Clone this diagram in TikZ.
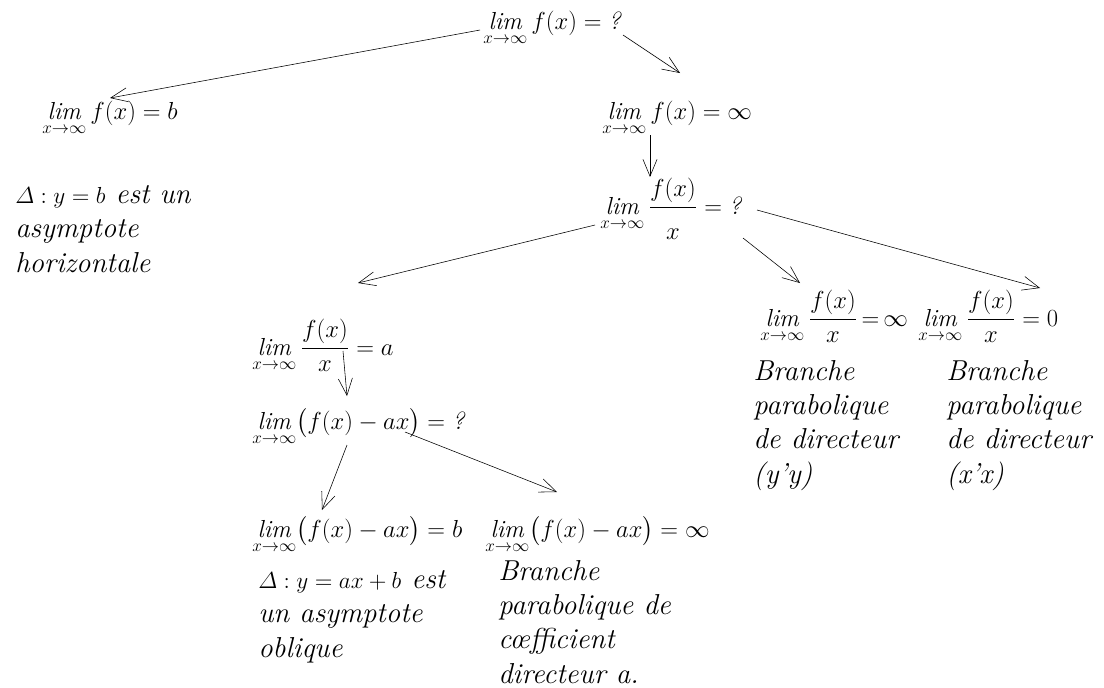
\RequirePackage{fix-cm}
\documentclass[tikz,border=0pt]{standalone}
\usepackage{amsmath}
\usepackage{fontspec}
\usetikzlibrary{arrows.meta}
\newcommand{\limx}{\mathop{\mathit{lim}}\limits_{x\to\infty}}
\newcommand{\fx}[1][20pt]{\dfrac{f(x)\rule[-6pt]{0pt}{0pt}}{\rule{0pt}{#1}x}}
\newcommand{\eqn}[1]{{\fontsize{16.5}{24.3}\selectfont$#1$}}
\tikzset{
    fl/.style={-{Straight Barb[length=12pt,width=10pt]}, line width=0.4pt},
    eq/.style={anchor=base west, inner sep=0pt,
        font=\fontsize{17.5}{24.3}\selectfont},
    bloc/.style={anchor=base west, inner sep=0pt, align=left,
        font=\fontsize{20.5}{24.3}\selectfont\itshape},
}

\begin{document}
\begin{tikzpicture}[x=0.025cm, y=-0.025cm]
\useasboundingbox (0,0) rectangle (1104,687);

% Limite de f
\node[eq] (top) at (483,29) {$\limx f(x) = \textit{?}$};

% Limite finie
\node[eq] (lb) at (42,119) {$\limx f(x) = b$};
\node[bloc] (ah) at (15,272) {\eqn{\varDelta : y = b}\ est un\\asymptote\\horizontale};

% Limite infinie
\node[eq] (li) at (602,119) {$\limx f(x) = \infty$};
\node[eq] (lq) at (600,214) {$\limx \fx = \textit{?}$};

% Les trois cas
\node[eq] (la) at (252,355) {$\limx \fx[10pt] = a$};
\node[eq] (lqi) at (760,326) {$\limx \fx[13pt] \,{=}\, \infty$};
\node[eq] (lqz) at (918,326) {$\limx \fx[13pt] = 0$};
\node[bloc] (by) at (753,483) {Branche\\parabolique\\de directeur\\(y'y)};
\node[bloc] (bx) at (946,483) {Branche\\parabolique\\de directeur\\(x'x)};

% f(x) - ax
\node[eq] (lr) at (252,429) {$\limx \bigl(f(x) - ax\bigr) = \textit{?}$};
\node[eq] (lrb) at (252,537) {$\limx \bigl(f(x) - ax\bigr) = b$};
\node[bloc] (ao) at (258,657) {\eqn{\varDelta : y = ax + b}\ est\\un asymptote\\oblique};
\node[eq] (lri) at (485,537) {$\limx \bigl(f(x) - ax\bigr) = \infty$};
\node[bloc] (bc) at (498,683) {Branche\\parabolique de\\c\oe fficient\\directeur a.};

% Fleches
\draw[fl] ([shift={(-3,1)}]top.base west) -- ([shift={(68,-21)}]lb.base west);
\draw[fl] ([shift={(140,6)}]top.base west) -- ([shift={(78,-46)}]li.base west);
\draw[fl] ([shift={(48,16)}]li.base west) -- ([shift={(50,-37)}]lq.base west);
\draw[fl] ([shift={(-5,11)}]lq.base west) -- ([shift={(106,-72)}]la.base west);
\draw[fl] ([shift={(143,24)}]lq.base west) -- ([shift={(40,-43)}]lqi.base west);
\draw[fl] ([shift={(157,-4)}]lq.base west) -- ([shift={(122,-38)}]lqz.base west);
\draw[fl] ([shift={(91,-4)}]la.base west) -- ([shift={(95,-33)}]lr.base west);
\draw[fl] ([shift={(153,3)}]lr.base west) -- ([shift={(72,-45)}]lri.base west);
\draw[fl] ([shift={(95,16)}]lr.base west) -- ([shift={(70,-27)}]lrb.base west);
\end{tikzpicture}
\end{document}
